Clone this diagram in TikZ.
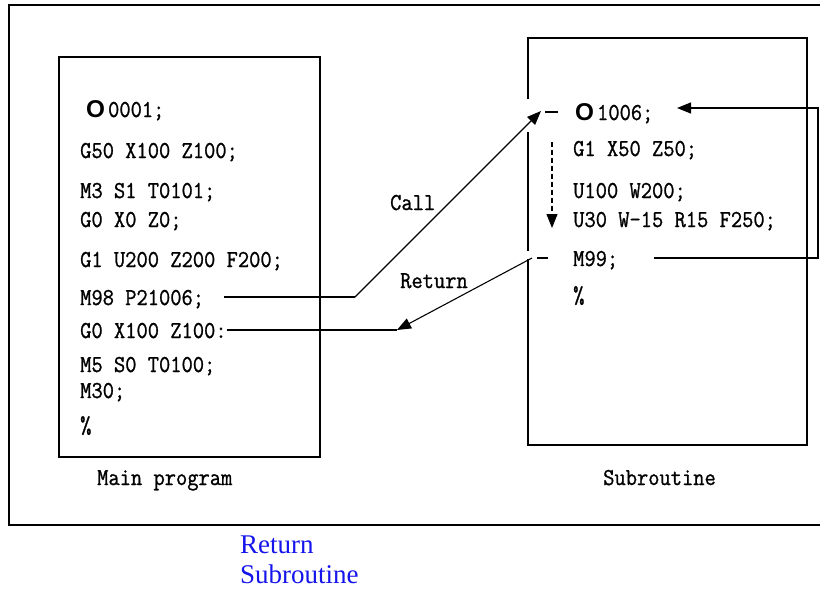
\documentclass[tikz,border=0pt]{standalone}
\usepackage{fontspec}
\setmainfont{Liberation Serif}
\newfontfamily\codefont[FakeStretch=0.9,FakeBold=1]{Latin Modern Mono}
\newfontfamily\boldsans{Liberation Sans}
\usetikzlibrary{arrows.meta}
\definecolor{linkblue}{RGB}{20,20,235}
\tikzset{
  code/.style={anchor=base west, inner sep=0pt, text height=16pt, text depth=0pt,
    font=\codefont\fontsize{24.3}{28}\selectfont},
  caption/.style={anchor=base west, inner sep=0pt, font=\codefont\fontsize{24.3}{28}\selectfont},
  frame/.style={line width=1.8pt},
  wire/.style={line width=1.1pt},
  arrowhead/.style={-{Triangle[length=14pt,width=11pt]}},
  bluenote/.style={anchor=base west, inner sep=0pt, text=linkblue, font=\fontsize{27}{30}\selectfont},
}

\begin{document}
\begin{tikzpicture}[x=1pt,y=-1pt]
\useasboundingbox (0,0) rectangle (820,590);
% outer frame, its right side runs off the page
\draw[line width=2.2pt] (824,5) -- (9,5) -- (9,525) -- (824,525);

% main program
\draw[frame] (59,57) rectangle (320,457);
\node[code] (o1) at (86,117) {{\boldsans\bfseries O}\hspace{3pt}0001;};
\node[code] (g50) at (80,158) {G50 X100 Z100;};
\node[code] (m3) at (80,198) {M3 S1 T0101;};
\node[code] (g0a) at (80,227) {G0 X0 Z0;};
\node[code] (g1a) at (80,267) {G1 U200 Z200 F200;};
\node[code] (m98) at (80,305) {M98 P21006;};
\node[code] (g0b) at (80,338) {G0 X100 Z100:};
\node[code] (m5) at (80,372) {M5 S0 T0100;};
\node[code] (m30) at (80,398) {M30;};
\node[code] (pcta) at (80,433) {\%};
\node[caption] (mainlbl) at (97,485) {Main program};

% subroutine, left side broken where the arrows come in
\draw[frame] (528,99) -- (528,38) -- (807,38) -- (807,445) -- (528,445) -- (528,259);
\draw[frame] (528,132) -- (528,251);
\node[code] (o2) at (575,120) {{\boldsans\bfseries O}\hspace{3pt}1006;};
\node[code] (g1b) at (573,156) {G1 X50 Z50;};
\node[code] (u100) at (573,198) {U100 W200;};
\node[code] (u30) at (573,227) {U30 W-15 R15 F250;};
\node[code] (m99) at (573,266) {M99;};
\node[code] (pctb) at (573,303) {\%};
\node[caption] (sublbl) at (603,485) {Subroutine};

% call
\coordinate (callbend) at (355,297);
\coordinate (calltip) at (541,111);
\draw[wire] ([xshift=20pt]m98.east) -- (callbend);
\draw[wire,arrowhead] (callbend) -- (calltip);
\draw[wire] ([xshift=-30pt]o2.west) -- ([xshift=-17pt]o2.west);
\node[caption] (calllbl) at (390,210) {Call};

% return
\coordinate (rettip) at (397,330);
\draw[wire] (g0b.east) -- (rettip);
\draw[wire] ([xshift=-36pt]m99.west) -- ([xshift=-25pt]m99.west);
\draw[wire,arrowhead] ([xshift=-41pt]m99.west) -- (rettip);
\node[caption] (retlbl) at (400,288) {Return};

% back to the start of the subroutine
\coordinate (loopbot) at (818,258);
\coordinate (looptop) at (818,108);
\coordinate (looptip) at (677,108);
\draw[wire,arrowhead] ([xshift=36pt]m99.east) -- (loopbot) -- (looptop) -- (looptip);

% run through the subroutine
\coordinate (flowtop) at (552,142);
\coordinate (flowtip) at (552,228);
\draw[wire,dash pattern=on 5pt off 3pt,arrowhead] (flowtop) -- (flowtip);

% notes under the frame
\node[bluenote] (bluereturn) at (240,553) {Return};
\node[bluenote] (bluesub) at (240,583) {Subroutine};
\end{tikzpicture}
\end{document}
